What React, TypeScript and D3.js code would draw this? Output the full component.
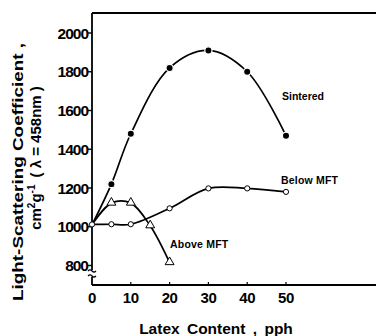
import React from 'react';
import * as d3 from 'd3';

// values (x = latex content in pph)
const startPoint = { x: 0, y: 1010 };
const sinteredX = [5, 10, 20, 30, 40, 50];
const sinteredY = [1220, 1480, 1820, 1910, 1800, 1470];
const belowX = [0, 5, 10, 20, 30, 40, 50];
const belowY = [1012, 1013, 1013, 1095, 1198, 1198, 1180];
const aboveX = [5, 10, 15, 20];
const aboveY = [1122, 1122, 1005, 815];
const xTicks = [0, 10, 20, 30, 40, 50];
const yTicks = [800, 1000, 1200, 1400, 1600, 1800, 2000];

const font = '"Liberation Sans", Arial, Helvetica, sans-serif';

export default function App() {
  const width = 376, height = 336;
  const left = 92, right = 376, top = 13, bottom = 285;

  const x = d3.scaleLinear().domain([0, 50]).range([92, 286]);
  const y = d3.scaleLinear().domain([800, 2000]).range([265.5, 33]);

  const line = d3.line<[number, number]>()
    .x(d => x(d[0]))
    .y(d => y(d[1]))
    .curve(d3.curveCatmullRom.alpha(0.5));

  const sintered: [number, number][] = [[startPoint.x, startPoint.y], ...sinteredX.map((v, i) => [v, sinteredY[i]] as [number, number])];
  const below: [number, number][] = belowX.map((v, i) => [v, belowY[i]]);
  const above: [number, number][] = [[startPoint.x, startPoint.y], ...aboveX.map((v, i) => [v, aboveY[i]] as [number, number])];

  const tri = d3.symbol().type(d3.symbolTriangle).size(34)() as string;

  return (
    <svg width={width} height={height} style={{ position: 'absolute', left: 0, top: 0, background: '#fff' }}>
      <rect width={width} height={height} fill="#fff" />
      {/* frame */}
      <line x1={left} x2={right} y1={top} y2={top} stroke="#000" strokeWidth={2} />
      <line x1={left} x2={left} y1={top} y2={270} stroke="#000" strokeWidth={1.8} />
      <path d={`M${left - 4},271 q2,-2 4,0 t4,0 M${left - 4},276 q2,-2 4,0 t4,0`} fill="none" stroke="#000" strokeWidth={1.2} />
      <line x1={left} x2={left} y1={277} y2={bottom} stroke="#000" strokeWidth={1.8} />
      <line x1={left} x2={right} y1={bottom} y2={bottom} stroke="#000" strokeWidth={1.8} />

      {/* y ticks */}
      {yTicks.map(t => (
        <g key={t}>
          <line x1={left - 5} x2={left} y1={y(t)} y2={y(t)} stroke="#000" strokeWidth={1.4} />
          <text x={left - 4} y={y(t) + 5.5} textAnchor="end" fontFamily={font} fontWeight="bold" fontSize={15.5} letterSpacing={-1}>{t}</text>
        </g>
      ))}
      {/* x ticks */}
      {xTicks.map(t => (
        <g key={t}>
          {t > 0 && <line x1={x(t)} x2={x(t)} y1={bottom} y2={bottom - 3} stroke="#000" strokeWidth={1.2} />}
          <text x={x(t)} y={303} textAnchor="middle" fontFamily={font} fontWeight="bold" fontSize={15} letterSpacing={-0.4}>{t}</text>
        </g>
      ))}

      {/* curves */}
      <path d={line(sintered) as string} fill="none" stroke="#000" strokeWidth={1.7} />
      <path d={line(below) as string} fill="none" stroke="#000" strokeWidth={1.7} />
      <path d={line(above) as string} fill="none" stroke="#000" strokeWidth={1.7} />

      {/* markers */}
      {sinteredX.map((v, i) => (
        <circle key={'s' + i} cx={x(v)} cy={y(sinteredY[i])} r={3.6} fill="#000" stroke="#fff" strokeWidth={1.2} />
      ))}
      {belowX.map((v, i) => (
        <circle key={'b' + i} cx={x(v)} cy={y(belowY[i])} r={2.6} fill="#fff" stroke="#000" strokeWidth={1} />
      ))}
      {aboveX.map((v, i) => (
        <path key={'a' + i} d={tri} transform={`translate(${x(v)},${y(aboveY[i]) - 0.5})`} fill="#fff" stroke="#000" strokeWidth={1} />
      ))}

      {/* curve labels */}
      <text x={282} y={100} fontFamily={font} fontWeight="bold" fontSize={10.5}>Sintered</text>
      <text x={281} y={184} fontFamily={font} fontWeight="bold" fontSize={10.5} letterSpacing={0.2}>Below MFT</text>
      <text x={170} y={248} fontFamily={font} fontWeight="bold" fontSize={10.5} letterSpacing={0.2}>Above MFT</text>

      {/* axis titles */}
      <text x={216} y={334} textAnchor="middle" fontFamily={font} fontWeight="bold" fontSize={15.5} wordSpacing={3}>Latex Content , pph</text>
      <text transform="translate(23,172) rotate(-90)" textAnchor="middle" fontFamily={font} fontWeight="bold" fontSize={15.5}
        textLength={258} lengthAdjust="spacingAndGlyphs">Light-Scattering Coefficient ,</text>
      <text transform="translate(41,158) rotate(-90)" textAnchor="middle" fontFamily={font} fontWeight="bold" fontSize={15}>
        cm<tspan dy={-6} fontSize={10}>2</tspan><tspan dy={6}>g</tspan><tspan dy={-6} fontSize={10}>-1</tspan><tspan dy={6} dx={7}>( λ = 458nm )</tspan>
      </text>
    </svg>
  );
}
